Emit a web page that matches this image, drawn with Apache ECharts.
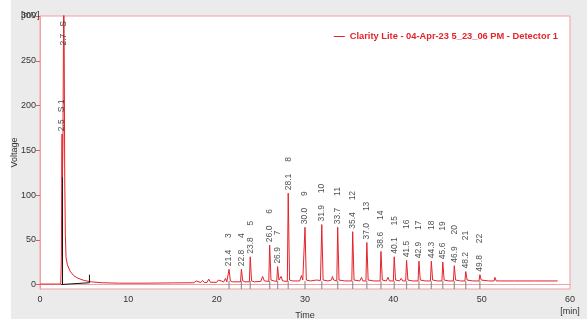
<!DOCTYPE html>
<html>
<head>
<meta charset="utf-8">
<script src="https://cdn.jsdelivr.net/npm/echarts@6/dist/echarts.min.js"></script>
<style>
html,body{margin:0;padding:0;background:#fff;}
#chart{width:587px;height:322px;}
</style>
</head>
<body>
<div id="chart"></div>
<script>
// ---- data ----
const seriesName = 'Clarity Lite - 04-Apr-23 5_23_06 PM - Detector 1';
const traceTime = [0.0,1.0,2.0,2.35,2.42,2.47,2.5,2.54,2.6,2.66,2.7,2.74,2.8,2.87,2.95,3.1,3.4,3.8,4.3,5.0,5.8,7.0,9.0,12.0,15.0,
  17.4,17.7,17.9,18.2,18.4,18.6,18.9,19.1,19.3,20.0,20.2,20.4,20.8,21.0,21.15,21.3,21.4,21.55,21.8,22.7,22.8,22.95,23.2,23.7,23.8,23.95,24.3,
  25.0,25.2,25.4,25.9,26.0,26.15,26.5,26.8,26.9,27.05,27.3,27.45,28.0,28.1,28.25,28.6,29.4,29.6,29.75,29.9,30.0,30.15,30.6,
  31.3,31.5,31.75,31.9,32.05,32.6,33.0,33.1,33.25,33.6,33.7,33.85,34.5,35.3,35.4,35.55,36.2,36.4,36.55,36.9,37.0,37.15,37.8,
  38.5,38.6,38.75,39.2,39.4,39.55,40.0,40.1,40.25,40.7,40.9,41.05,41.4,41.5,41.65,42.2,42.8,42.9,43.05,43.6,44.2,44.3,44.45,
  45.0,45.5,45.6,45.75,46.3,46.8,46.9,47.05,47.6,48.1,48.2,48.35,49.0,49.7,49.8,49.95,50.8,51.4,51.5,51.65,53.3,53.5,53.7,56.0,58.6];
const traceMv = [0.5,0.5,0.5,0.8,30,150,168,120,160,280,330,260,120,55,30,22,15,10,7,4.5,3,2,1.5,1.5,1.8,
  2,4,2,2.2,4.5,2.2,2.3,6,2.5,2.5,5,2.8,3,7,3,3,17,4,3,3,17,4,3,3,31,4,3,
  3.5,9,4,3.5,44,5,4,3.5,20,5,9,4,3.5,102,5,4,4,10,5,4,64,5,4,
  5,6,4.5,67,5,4,5,9,5,4,64,5,4,4,59,5,4,8,4,4,47,5,4,
  4,37,5,4,8,4,4,31,5,4,7,4,4,27,5,4,4,26,5,4,4,26,5,
  4,4,25,5,4,4,21,5,4,4,14.5,5,4,4,11,5,4,4,8,4,4,6,4,4,4];

const peakTimes  = [2.5, 21.4, 22.8, 23.8, 26.0, 26.9, 28.1, 30.0, 31.9, 33.7, 35.4, 37.0, 38.6, 40.1, 41.5, 42.9, 44.3, 45.6, 46.9, 48.2, 49.8];
const peakIds    = ['S 1','3','4','5','6','7','8','9','10','11','12','13','14','15','16','17','18','19','20','21','22'];
const offscalePeakTime = 2.7, offscalePeakLabelMv = 267, offscalePeakId = 'S';
const markerTimes = [21.4, 22.8, 23.8, 26.0, 26.9, 28.1, 30.0, 31.9, 33.7, 35.4, 37.0, 38.6, 40.1, 41.5, 42.9, 44.3, 45.6, 46.9, 48.2, 49.8];
const baselineTime = [2.4, 5.6];
const baselineMv = [0, 2];
const endMarkTime = [5.6, 5.6], endMarkMv = [2, 11];
const dropLineTime = [2.55, 2.55], dropLineMv = [0, 125];

const xTicks = [0, 10, 20, 30, 40, 50, 60];
const yTicks = [0, 50, 100, 150, 200, 250, 300];
// --------------------------------------

const RED = '#e3242b';
const FRAME = '#f2a0a3';
const fmt = t => t.toFixed(1);
const labelStyle = {
  show: true, position: 'top', distance: 3, rotate: 90, align: 'left', verticalAlign: 'middle',
  fontSize: 8.5, fontFamily: 'Liberation Sans', color: '#222'
};
const gapFor = id => id.charAt(0) === 'S' ? '   ' : '     ';

const peakLabelData = peakTimes.map((t, k) => {
  const i = traceTime.indexOf(t);
  return {value: [t, traceMv[i]], label: Object.assign({}, labelStyle, {formatter: fmt(t) + gapFor(peakIds[k]) + peakIds[k]})};
});

const chart = echarts.init(document.getElementById('chart'), null, {renderer: 'canvas'});
chart.setOption({
  animation: false,
  backgroundColor: '#ffffff',
  graphic: [
    {type: 'rect', left: 11, top: 0, shape: {width: 576, height: 319}, style: {fill: '#ebebeb'}, z: -100, silent: true},
    {type: 'text', left: 21, top: 11, style: {text: '[mV]', font: '9px "Liberation Sans"', fill: '#333'}, z: 100}
  ],
  legend: {
    show: true, top: 27, right: 24, itemWidth: 11, itemHeight: 1, icon: 'rect', itemGap: 4,
    textStyle: {color: RED, fontWeight: 'bold', fontSize: 9.3, fontFamily: 'Liberation Sans'},
    data: [seriesName]
  },
  grid: {left: 40, right: 17, top: 16, bottom: 33, containLabel: false, outerBoundsMode: 'none',
         show: true, backgroundColor: '#ffffff', borderColor: FRAME, borderWidth: 1},
  xAxis: {
    type: 'value', min: 0, max: 60, interval: 10,
    name: 'Time', nameLocation: 'middle', nameGap: 22, nameMoveOverlap: false,
    nameTextStyle: {fontSize: 9, fontFamily: 'Liberation Sans', color: '#333', verticalAlign: 'top'},
    axisLine: {show: true, lineStyle: {color: FRAME}},
    axisTick: {show: false},
    splitLine: {show: false},
    axisLabel: {
      margin: 5, fontSize: 9, fontFamily: 'Liberation Sans', color: '#333', lineHeight: 12,
      customValues: xTicks,
      formatter: v => v === 60 ? '60\n[min]' : String(v)
    }
  },
  yAxis: {
    type: 'value', min: -5, max: 300,
    name: 'Voltage', nameLocation: 'middle', nameGap: 25, nameRotate: 90, nameMoveOverlap: false,
    nameTextStyle: {fontSize: 9, fontFamily: 'Liberation Sans', color: '#333', verticalAlign: 'middle'},
    axisLine: {show: true, lineStyle: {color: FRAME}},
    axisTick: {show: true, length: 4, lineStyle: {color: '#e35a60'}, customValues: yTicks},
    splitLine: {show: false},
    axisLabel: {margin: 4, fontSize: 9, fontFamily: 'Liberation Sans', color: '#333', customValues: yTicks}
  },
  series: [
    {
      name: seriesName, type: 'line', clip: true, showSymbol: false, symbol: 'none',
      lineStyle: {color: RED, width: 1}, itemStyle: {color: RED},
      data: traceTime.map((t, i) => [t, traceMv[i]]), z: 5
    },
    {
      name: 'baseline', type: 'line', symbol: 'none', lineStyle: {color: '#111', width: 1},
      data: baselineTime.map((t, i) => [t, baselineMv[i]]), z: 6
    },
    {
      name: 'endmark', type: 'line', symbol: 'none', lineStyle: {color: '#111', width: 1},
      data: endMarkTime.map((t, i) => [t, endMarkMv[i]]), z: 6
    },
    {
      name: 'dropline', type: 'line', symbol: 'none', lineStyle: {color: '#111', width: 1},
      data: dropLineTime.map((t, i) => [t, dropLineMv[i]]), z: 4
    },
    {
      name: 'markers', type: 'scatter', symbol: 'rect', symbolSize: [1.2, 8],
      itemStyle: {color: '#7a7a7a'}, data: markerTimes.map(t => [t, -0.5]), z: 3, silent: true
    },
    {
      name: 'peakLabels', type: 'scatter', symbolSize: 0, silent: true, z: 10,
      data: peakLabelData
    },
    {
      name: 'offscaleLabel', type: 'scatter', symbolSize: 0, silent: true, z: 10,
      data: [[offscalePeakTime, offscalePeakLabelMv]],
      label: Object.assign({}, labelStyle, {distance: 0, formatter: fmt(offscalePeakTime) + '   ' + offscalePeakId})
    }
  ]
});
</script>
</body>
</html>
